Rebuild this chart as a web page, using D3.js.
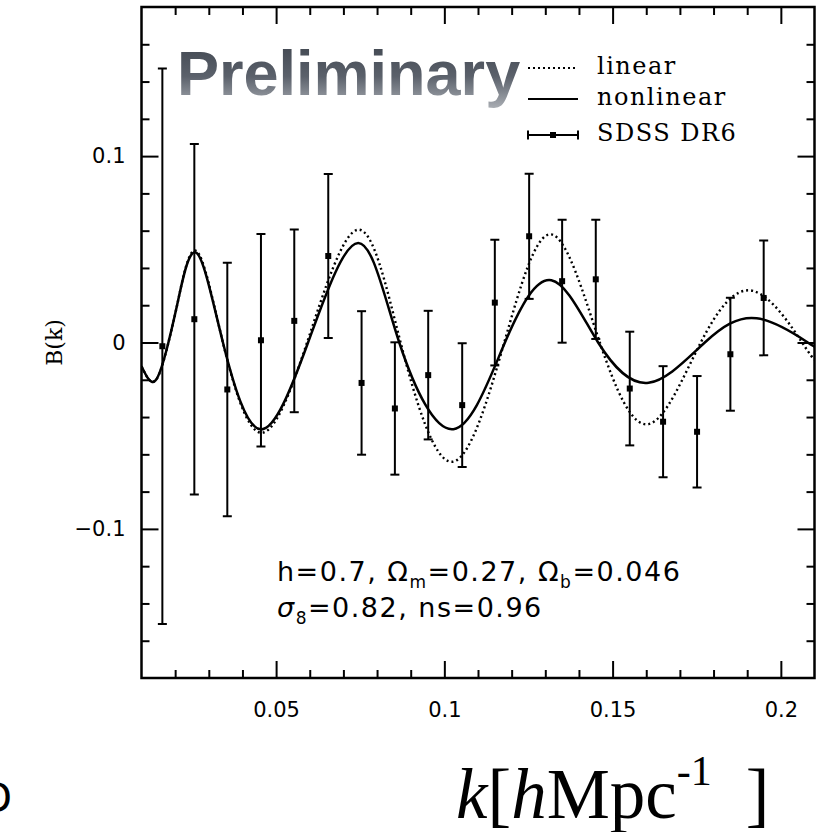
<!DOCTYPE html>
<html>
<head>
<meta charset="utf-8">
<script src="https://cdn.jsdelivr.net/npm/d3@7"></script>
<style>
  body { margin: 0; background: #fff; }
  svg { display: block; }
</style>
</head>
<body>
<svg></svg>
<script>
// SDSS DR6 band power points
let kPoints = [0.0162, 0.0257, 0.0355, 0.0455, 0.0554, 0.0655, 0.0754, 0.0853, 0.0952, 0.1053,
               0.1150, 0.1252, 0.1350, 0.1450, 0.1551, 0.1650, 0.1751, 0.1850, 0.1949]
let bPoints = [-0.002, 0.0125, -0.0252, 0.0012, 0.0116, 0.0464, -0.0217, -0.0354, -0.0175, -0.0336,
               0.0214, 0.0570, 0.0329, 0.0339, -0.0247, -0.0425, -0.0479, -0.0063, 0.0239]
let bErrors = [0.149, 0.094, 0.068, 0.057, 0.049, 0.044, 0.0385, 0.0355, 0.0345, 0.0332,
               0.0337, 0.0336, 0.0330, 0.0320, 0.0305, 0.0298, 0.0299, 0.0303, 0.0308]

// nonlinear model (solid)
let kNonlinear = [0.010, 0.0141, 0.018, 0.0211, 0.0264, 0.0342, 0.0454, 0.0595, 0.0744, 0.0866,
                  0.1027, 0.1180, 0.1318, 0.1457, 0.1607, 0.1774, 0.1928, 0.2080, 0.210]
let bNonlinear = [-0.0127, -0.0205, 0.000, 0.0244, 0.048, 0.000, -0.0466, 0.000, 0.0534, 0.000,
                  -0.0465, 0.000, 0.0334, 0.000, -0.0216, 0.000, 0.0130, 0.000, -0.0018]

// linear model (dotted)
let kLinear = [0.010, 0.0141, 0.018, 0.0211, 0.0264, 0.0342, 0.0454, 0.0592, 0.0743, 0.0870,
               0.1022, 0.1178, 0.1318, 0.1462, 0.1607, 0.1762, 0.1917, 0.2063, 0.210]
let bLinear = [-0.0127, -0.0205, 0.000, 0.0244, 0.049, 0.000, -0.0484, 0.000, 0.0605, 0.000,
               -0.0640, 0.000, 0.0580, 0.000, -0.0438, 0.000, 0.0277, 0.000, -0.0091]

let xMajor = [0.05, 0.1, 0.15, 0.2]
let xMajorLabels = ['0.05', '0.1', '0.15', '0.2']
let xMinor = [0.02, 0.03, 0.04, 0.06, 0.07, 0.08, 0.09, 0.11, 0.12, 0.13, 0.14, 0.16, 0.17, 0.18, 0.19]
let yMajor = [-0.1, 0, 0.1]
let yMajorLabels = ['\u22120.1', '0', '0.1']
let yMinor = [-0.16, -0.14, -0.12, -0.08, -0.06, -0.04, -0.02, 0.02, 0.04, 0.06, 0.08, 0.12, 0.14, 0.16]

let legendLabels = ['linear', 'nonlinear', 'SDSS DR6']

let width = 823
let height = 832
let plotLeft = 141.5, plotRight = 814.5, plotTop = 7, plotBottom = 678

let xScale, yScale
let svg = d3.select('svg')

drawCanvas = () => {
    svg.attr('width', width).attr('height', height)
    svg.append('rect').attr('width', width).attr('height', height).attr('fill', '#fff')

    let defs = svg.append('defs')
    defs.append('clipPath').attr('id', 'plotClip')
        .append('rect')
        .attr('x', plotLeft).attr('y', plotTop)
        .attr('width', plotRight - plotLeft).attr('height', plotBottom - plotTop)

    let grad = defs.append('linearGradient')
        .attr('id', 'prelimGrad')
        .attr('x1', 0).attr('y1', 0).attr('x2', 0).attr('y2', 1)
    grad.append('stop').attr('offset', '0%').attr('stop-color', '#3e444d')
    grad.append('stop').attr('offset', '55%').attr('stop-color', '#5b616b')
    grad.append('stop').attr('offset', '100%').attr('stop-color', '#a9adb3')
}

generateScales = () => {
    xScale = d3.scaleLinear().domain([0.01, 0.21]).range([plotLeft, plotRight])
    yScale = d3.scaleLinear().domain([-0.18, 0.18]).range([plotBottom, plotTop])
}

drawAxes = () => {
    let styleAxis = (g) => {
        g.select('.domain').remove()
        g.selectAll('line').attr('stroke', '#000').attr('stroke-width', 2)
        g.selectAll('text').attr('font-family', 'DejaVu Sans').attr('font-size', 21).attr('fill', '#000')
    }

    // bottom
    svg.append('g').attr('transform', 'translate(0,' + plotBottom + ')')
        .call(d3.axisBottom(xScale).tickValues(xMajor).tickSize(-17).tickPadding(24)
            .tickFormat((d, i) => xMajorLabels[i]))
        .call(styleAxis)
    svg.append('g').attr('transform', 'translate(0,' + plotBottom + ')')
        .call(d3.axisBottom(xScale).tickValues(xMinor).tickSize(-8).tickFormat(''))
        .call(styleAxis)
    // top
    svg.append('g').attr('transform', 'translate(0,' + plotTop + ')')
        .call(d3.axisTop(xScale).tickValues(xMajor).tickSize(-17).tickFormat(''))
        .call(styleAxis)
    svg.append('g').attr('transform', 'translate(0,' + plotTop + ')')
        .call(d3.axisTop(xScale).tickValues(xMinor).tickSize(-8).tickFormat(''))
        .call(styleAxis)
    // left
    svg.append('g').attr('transform', 'translate(' + plotLeft + ',0)')
        .call(d3.axisLeft(yScale).tickValues(yMajor).tickSize(-17).tickPadding(16)
            .tickFormat((d, i) => yMajorLabels[i]))
        .call(styleAxis)
    svg.append('g').attr('transform', 'translate(' + plotLeft + ',0)')
        .call(d3.axisLeft(yScale).tickValues(yMinor).tickSize(-8).tickFormat(''))
        .call(styleAxis)
    // right
    svg.append('g').attr('transform', 'translate(' + plotRight + ',0)')
        .call(d3.axisRight(yScale).tickValues(yMajor).tickSize(-17).tickFormat(''))
        .call(styleAxis)
    svg.append('g').attr('transform', 'translate(' + plotRight + ',0)')
        .call(d3.axisRight(yScale).tickValues(yMinor).tickSize(-8).tickFormat(''))
        .call(styleAxis)

    svg.append('rect')
        .attr('x', plotLeft).attr('y', plotTop)
        .attr('width', plotRight - plotLeft).attr('height', plotBottom - plotTop)
        .attr('fill', 'none').attr('stroke', '#000').attr('stroke-width', 2.5)

    svg.append('text')
        .attr('transform', 'translate(62,' + yScale(0) + ') rotate(-90)')
        .attr('text-anchor', 'middle')
        .attr('font-family', 'DejaVu Serif').attr('font-size', 22)
        .text('B(k)')

    let xl = svg.append('text')
        .attr('x', 456).attr('y', 818)
        .attr('font-family', 'Liberation Serif').attr('font-size', 71)
    xl.append('tspan').attr('font-style', 'italic').text('k')
    xl.append('tspan').text('[')
    xl.append('tspan').attr('font-style', 'italic').text('h')
    xl.append('tspan').text('Mpc')
    xl.append('tspan').attr('font-size', 42).attr('dy', -33).text('-1')
    xl.append('tspan').attr('dy', 33).attr('dx', 34).text(']')

    // cut-off letter at lower left
    svg.append('text')
        .attr('x', 12).attr('y', 812).attr('text-anchor', 'end')
        .attr('font-family', 'DejaVu Sans').attr('font-size', 40)
        .text('D')
}

drawPrelim = () => {
    svg.append('text')
        .attr('x', 177).attr('y', 95)
        .attr('font-family', 'Liberation Sans').attr('font-weight', 'bold').attr('font-size', 63)
        .attr('fill', 'url(#prelimGrad)')
        .text('Preliminary')
}

drawCurves = () => {
    let line = d3.line()
        .x((d) => xScale(d[0]))
        .y((d) => yScale(d[1]))
        .curve(d3.curveNatural)

    let plot = svg.append('g').attr('clip-path', 'url(#plotClip)')

    plot.append('path')
        .datum(kLinear.map((k, i) => [k, bLinear[i]]))
        .attr('d', line)
        .attr('fill', 'none').attr('stroke', '#000')
        .attr('stroke-width', 2.4).attr('stroke-dasharray', '2,3')

    plot.append('path')
        .datum(kNonlinear.map((k, i) => [k, bNonlinear[i]]))
        .attr('d', line)
        .attr('fill', 'none').attr('stroke', '#000').attr('stroke-width', 2.5)
}

drawPoints = () => {
    let pts = kPoints.map((k, i) => ({ k: k, b: bPoints[i], e: bErrors[i] }))
    let g = svg.append('g').attr('clip-path', 'url(#plotClip)')
    let bars = g.selectAll('g.pt').data(pts).enter().append('g').attr('class', 'pt')

    bars.append('line')
        .attr('x1', (d) => xScale(d.k)).attr('x2', (d) => xScale(d.k))
        .attr('y1', (d) => yScale(d.b - d.e)).attr('y2', (d) => yScale(d.b + d.e))
        .attr('stroke', '#000').attr('stroke-width', 2)
    bars.append('line')
        .attr('x1', (d) => xScale(d.k) - 4.5).attr('x2', (d) => xScale(d.k) + 4.5)
        .attr('y1', (d) => yScale(d.b + d.e)).attr('y2', (d) => yScale(d.b + d.e))
        .attr('stroke', '#000').attr('stroke-width', 2)
    bars.append('line')
        .attr('x1', (d) => xScale(d.k) - 4.5).attr('x2', (d) => xScale(d.k) + 4.5)
        .attr('y1', (d) => yScale(d.b - d.e)).attr('y2', (d) => yScale(d.b - d.e))
        .attr('stroke', '#000').attr('stroke-width', 2)
    bars.append('rect')
        .attr('x', (d) => xScale(d.k) - 3).attr('y', (d) => yScale(d.b) - 3)
        .attr('width', 6).attr('height', 6)
        .attr('fill', '#000')
}

drawLegend = () => {
    let lx = 528, lw = 50
    let rows = [68, 99, 135]
    let font = (t) => t.attr('font-family', 'DejaVu Serif').attr('font-size', 24)
        .attr('letter-spacing', 1.5).attr('fill', '#000')

    svg.append('line').attr('x1', lx).attr('x2', lx + lw).attr('y1', rows[0]).attr('y2', rows[0])
        .attr('stroke', '#000').attr('stroke-width', 2).attr('stroke-dasharray', '2,3')
    svg.append('line').attr('x1', lx).attr('x2', lx + lw).attr('y1', rows[1]).attr('y2', rows[1])
        .attr('stroke', '#000').attr('stroke-width', 2)
    svg.append('line').attr('x1', lx).attr('x2', lx + lw).attr('y1', rows[2]).attr('y2', rows[2])
        .attr('stroke', '#000').attr('stroke-width', 1.8)
    svg.append('line').attr('x1', lx).attr('x2', lx).attr('y1', rows[2] - 4.5).attr('y2', rows[2] + 4.5)
        .attr('stroke', '#000').attr('stroke-width', 2)
    svg.append('line').attr('x1', lx + lw).attr('x2', lx + lw).attr('y1', rows[2] - 4.5).attr('y2', rows[2] + 4.5)
        .attr('stroke', '#000').attr('stroke-width', 2)
    svg.append('rect').attr('x', lx + lw / 2 - 3).attr('y', rows[2] - 3).attr('width', 6).attr('height', 6)
        .attr('fill', '#000')

    legendLabels.forEach((t, i) => {
        svg.append('text').attr('x', 597).attr('y', rows[i] + 6).call(font).text(t)
    })
}

drawNote = () => {
    let f = (t) => t.attr('font-family', 'DejaVu Sans').attr('font-size', 27)
        .attr('letter-spacing', 1.5).attr('fill', '#000')
    let t1 = svg.append('text').attr('x', 277).attr('y', 581).call(f)
    t1.append('tspan').text('h=0.7,  \u03A9')
    t1.append('tspan').attr('font-size', 17).attr('dy', 7).text('m')
    t1.append('tspan').attr('dy', -7).text('=0.27,  \u03A9')
    t1.append('tspan').attr('font-size', 17).attr('dy', 7).text('b')
    t1.append('tspan').attr('dy', -7).text('=0.046')

    let t2 = svg.append('text').attr('x', 277).attr('y', 617).call(f)
    t2.append('tspan').attr('font-style', 'italic').text('\u03C3')
    t2.append('tspan').attr('font-size', 17).attr('dy', 7).text('8')
    t2.append('tspan').attr('dy', -7).text('=0.82,  ns=0.96')
}

drawCanvas()
generateScales()
drawPrelim()
drawCurves()
drawPoints()
drawAxes()
drawLegend()
drawNote()
</script>
</body>
</html>
